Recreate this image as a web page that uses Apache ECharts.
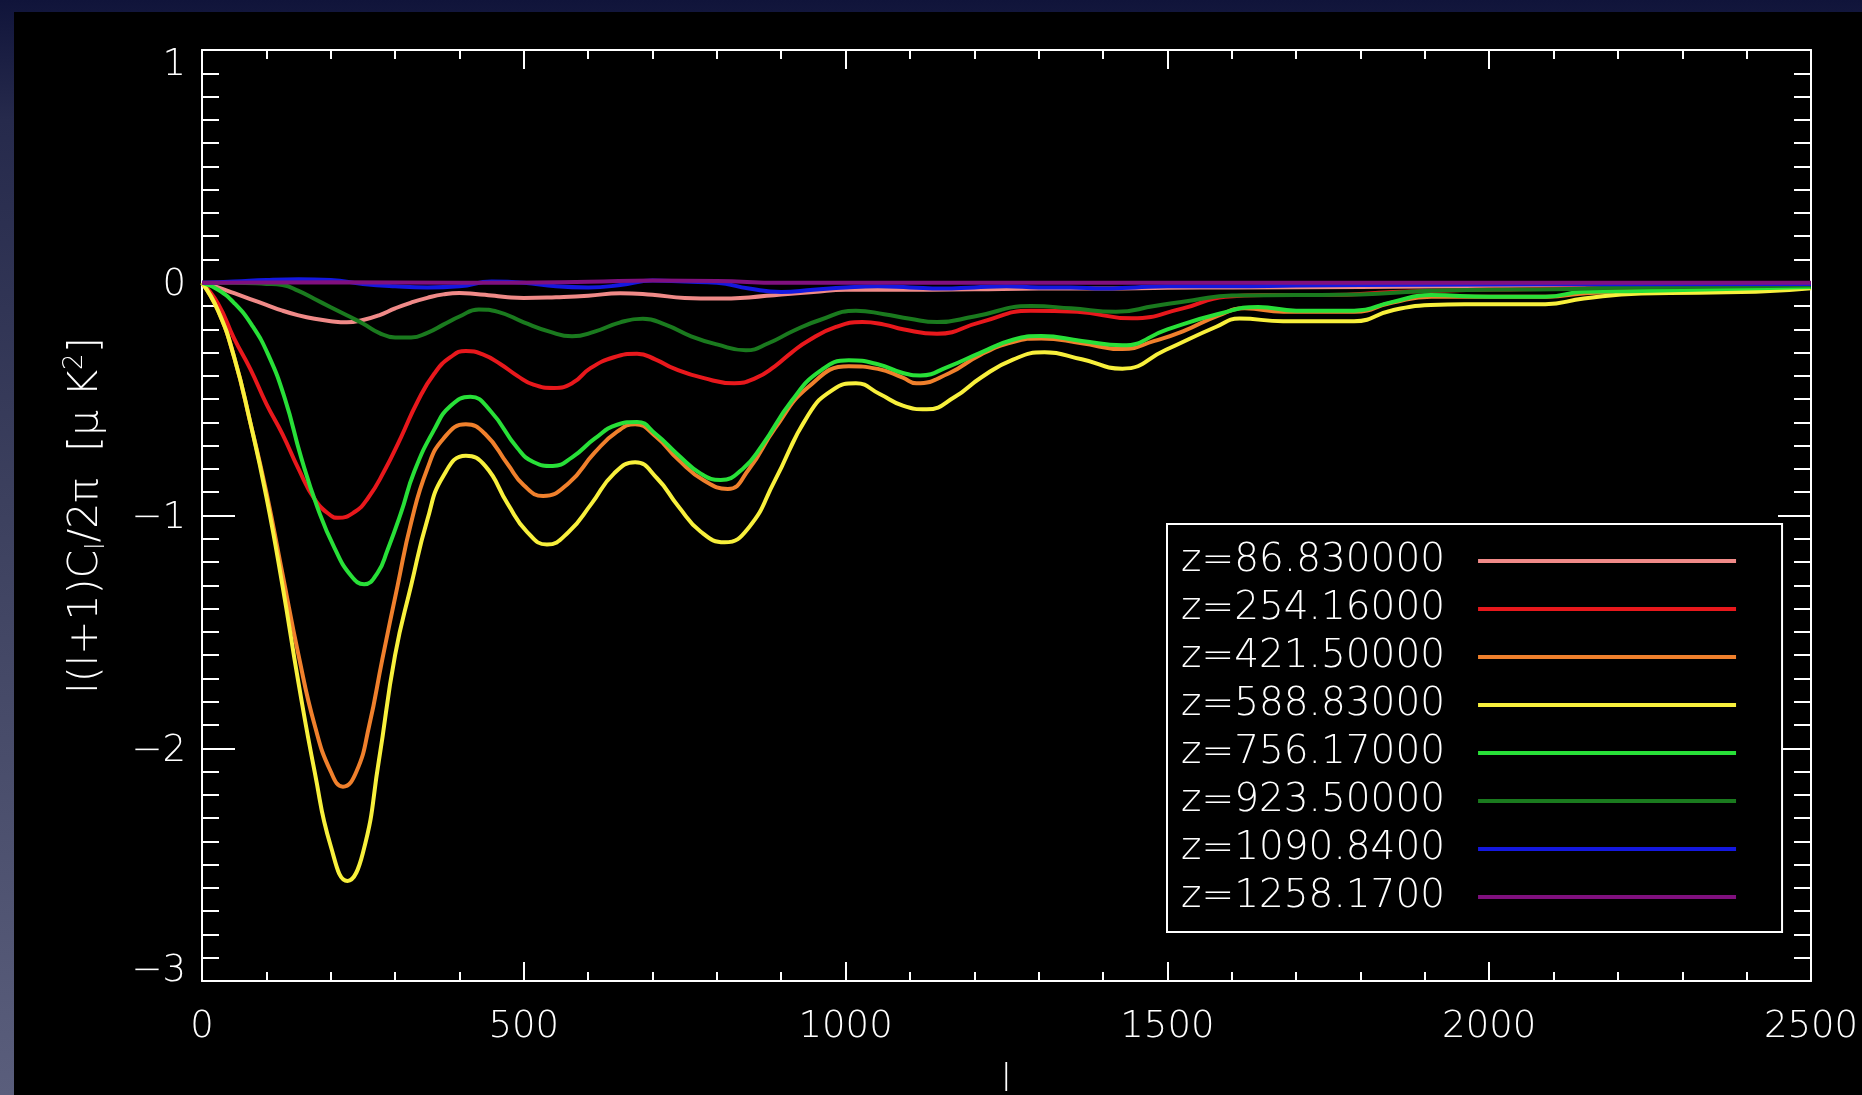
<!DOCTYPE html>
<html>
<head>
<meta charset="utf-8">
<script src="https://cdn.jsdelivr.net/npm/echarts@6/dist/echarts.min.js"></script>
<style>
  html, body { margin: 0; padding: 0; width: 1862px; height: 1095px; overflow: hidden;
    background: linear-gradient(to bottom, #10143a 0px, #262a4c 120px, #3c405e 500px, #5a5e7c 1095px); }
  #blk { position: absolute; left: 14px; top: 12px; right: 0; bottom: 0; background: #000; }
  #chart { position: absolute; left: 0; top: 0; width: 1862px; height: 1095px; }
</style>
</head>
<body>
<div id="blk"></div>
<div id="chart"></div>
<script>
// ---- data (multipole l, value in muK^2) ----
const seriesNames = ['z=86.830000', 'z=254.16000', 'z=421.50000', 'z=588.83000',
                     'z=756.17000', 'z=923.50000', 'z=1090.8400', 'z=1258.1700'];
const seriesColors = ['#f08a88', '#e8181c', '#f0802c', '#f8f03c',
                      '#28e038', '#1a7a1e', '#1418e0', '#80107e'];

const zPink = [[0,0],[25,-0.02],[50,-0.045],[75,-0.07],[100,-0.095],[125,-0.12],[150,-0.14],[175,-0.155],
  [200,-0.165],[225,-0.17],[250,-0.16],[275,-0.14],[300,-0.11],[325,-0.085],[350,-0.065],[375,-0.05],
  [400,-0.044],[425,-0.048],[450,-0.055],[475,-0.062],[500,-0.065],[550,-0.062],[600,-0.056],[650,-0.045],
  [700,-0.052],[750,-0.065],[800,-0.068],[850,-0.063],[900,-0.05],[950,-0.04],[1000,-0.03],[1100,-0.03],
  [1200,-0.028],[1300,-0.025],[1400,-0.025],[1500,-0.022],[1600,-0.02],[1800,-0.018],[2000,-0.015],
  [2200,-0.012],[2500,-0.01]];

const zRed = [[0,0],[25,-0.09],[50,-0.24],[75,-0.37],[100,-0.52],[125,-0.65],[150,-0.8],[175,-0.93],
  [200,-1.0],[211,-1.01],[237,-0.985],[258,-0.925],[283,-0.81],[309,-0.665],[335,-0.51],[361,-0.39],
  [386,-0.32],[410,-0.293],[438,-0.31],[464,-0.35],[490,-0.4],[515,-0.438],[547,-0.452],[576,-0.43],
  [603,-0.368],[640,-0.32],[676,-0.305],[705,-0.33],[733,-0.368],[780,-0.41],[827,-0.432],[860,-0.41],
  [890,-0.359],[916,-0.3],[942,-0.249],[985,-0.19],[1026,-0.169],[1060,-0.18],[1089,-0.2],[1142,-0.219],
  [1210,-0.169],[1288,-0.12],[1360,-0.125],[1445,-0.153],[1524,-0.11],[1590,-0.06],[1650,-0.053],
  [1750,-0.053],[1850,-0.04],[1950,-0.032],[2050,-0.028],[2150,-0.024],[2250,-0.02],[2350,-0.017],[2500,-0.012]];

const zOrange = [[0,0],[25,-0.12],[50,-0.32],[75,-0.6],[100,-0.9],[125,-1.25],[150,-1.6],[175,-1.9],
  [200,-2.1],[219,-2.165],[240,-2.1],[260,-1.9],[280,-1.62],[304,-1.3],[325,-1.03],[350,-0.8],[375,-0.67],
  [410,-0.608],[440,-0.65],[475,-0.78],[500,-0.87],[530,-0.916],[570,-0.86],[610,-0.73],[645,-0.64],
  [673,-0.608],[705,-0.66],[740,-0.76],[780,-0.85],[817,-0.886],[850,-0.8],[890,-0.627],[942,-0.448],
  [1005,-0.359],[1050,-0.37],[1089,-0.408],[1110,-0.432],[1160,-0.39],[1210,-0.309],[1260,-0.255],
  [1304,-0.239],[1367,-0.26],[1430,-0.285],[1480,-0.25],[1524,-0.209],[1580,-0.14],[1620,-0.11],
  [1680,-0.125],[1790,-0.125],[1850,-0.085],[1910,-0.06],[2000,-0.06],[2090,-0.06],[2150,-0.045],
  [2240,-0.035],[2400,-0.03],[2500,-0.02]];

const zYellow = [[0,0],[25,-0.12],[50,-0.32],[75,-0.6],[100,-0.92],[125,-1.3],[150,-1.72],[175,-2.1],
  [200,-2.42],[226,-2.57],[250,-2.45],[275,-2.05],[300,-1.6],[325,-1.3],[350,-1.02],[375,-0.83],
  [410,-0.743],[440,-0.787],[475,-0.95],[505,-1.07],[536,-1.125],[570,-1.07],[605,-0.95],[640,-0.82],
  [673,-0.771],[707,-0.84],[740,-0.96],[775,-1.07],[812,-1.115],[850,-1.05],[890,-0.85],[942,-0.568],
  [980,-0.46],[1016,-0.432],[1053,-0.478],[1089,-0.528],[1126,-0.544],[1170,-0.49],[1210,-0.408],
  [1260,-0.33],[1309,-0.299],[1367,-0.329],[1430,-0.369],[1497,-0.289],[1576,-0.189],[1612,-0.154],
  [1680,-0.165],[1790,-0.165],[1850,-0.118],[1909,-0.096],[1962,-0.092],[2087,-0.092],[2147,-0.068],
  [2236,-0.046],[2414,-0.039],[2500,-0.024]];

const zGreen = [[0,0],[25,-0.03],[51,-0.09],[77,-0.18],[103,-0.31],[129,-0.5],[154,-0.75],[180,-0.97],
  [206,-1.14],[232,-1.26],[252,-1.295],[273,-1.245],[288,-1.15],[309,-0.99],[330,-0.81],[361,-0.63],
  [386,-0.53],[417,-0.49],[448,-0.55],[490,-0.71],[515,-0.77],[545,-0.787],[575,-0.75],[610,-0.67],
  [645,-0.61],[676,-0.598],[705,-0.65],[740,-0.74],[775,-0.82],[806,-0.847],[840,-0.8],[870,-0.7],
  [916,-0.508],[960,-0.38],[1005,-0.333],[1050,-0.35],[1089,-0.388],[1116,-0.398],[1160,-0.36],
  [1210,-0.3],[1260,-0.245],[1304,-0.229],[1367,-0.25],[1430,-0.269],[1500,-0.2],[1582,-0.132],
  [1641,-0.104],[1700,-0.12],[1790,-0.12],[1850,-0.082],[1909,-0.053],[2000,-0.06],[2087,-0.06],
  [2147,-0.039],[2236,-0.035],[2500,-0.018]];

const zDarkGreen = [[0,0],[50,0],[100,-0.005],[125,-0.01],[150,-0.035],[175,-0.07],[200,-0.105],
  [225,-0.14],[250,-0.175],[275,-0.215],[300,-0.235],[325,-0.235],[350,-0.215],[375,-0.18],[400,-0.145],
  [430,-0.115],[460,-0.125],[500,-0.17],[540,-0.21],[575,-0.23],[610,-0.21],[650,-0.17],[685,-0.155],
  [720,-0.18],[760,-0.23],[800,-0.265],[845,-0.29],[880,-0.26],[920,-0.205],[960,-0.16],[1016,-0.12],
  [1060,-0.135],[1100,-0.155],[1142,-0.169],[1200,-0.145],[1288,-0.1],[1350,-0.11],[1420,-0.125],
  [1480,-0.1],[1540,-0.075],[1600,-0.055],[1700,-0.053],[1800,-0.05],[1900,-0.035],[2000,-0.03],
  [2100,-0.028],[2200,-0.022],[2300,-0.018],[2500,-0.012]];

const zBlue = [[0,0],[50,0.005],[100,0.012],[150,0.015],[200,0.012],[250,-0.005],[300,-0.015],[350,-0.02],
  [400,-0.015],[450,0.005],[500,0.0],[550,-0.015],[600,-0.02],[650,-0.01],[700,0.01],[750,0.005],
  [800,0.0],[850,-0.025],[900,-0.04],[950,-0.03],[1000,-0.02],[1050,-0.015],[1100,-0.02],[1150,-0.025],
  [1200,-0.02],[1250,-0.015],[1300,-0.02],[1350,-0.02],[1400,-0.025],[1450,-0.02],[1500,-0.015],
  [1600,-0.015],[1700,-0.012],[1800,-0.01],[2000,-0.008],[2200,-0.006],[2500,-0.005]];

const zPurple = [[0,0],[200,0.002],[400,0.0],[600,0.004],[700,0.01],[800,0.008],[900,0.0],[1200,0.0],
  [1600,0.0],[2000,0.0],[2500,0.0]];

const seriesData = [zPink, zRed, zOrange, zYellow, zGreen, zDarkGreen, zBlue, zPurple];

const xTicks = { min: 0, max: 2500, interval: 500 };
const yTicks = { min: -3, max: 1, interval: 1 };

// ---- chart ----
const FONT = 'DejaVu Sans';
const FW = 200;
const chart = echarts.init(document.getElementById('chart'), null, { renderer: 'canvas' });

const axisLine = { show: true, onZero: false, lineStyle: { color: '#ffffff', width: 2 } };
const xTick = { show: true, inside: true, length: 19, lineStyle: { color: '#ffffff', width: 2 } };
const xMinor = { show: true, splitNumber: 5, length: 9, lineStyle: { color: '#ffffff', width: 2 } };
const yTick = { show: true, inside: true, length: 33, lineStyle: { color: '#ffffff', width: 2 } };
const yMinor = { show: true, splitNumber: 10, length: 17, lineStyle: { color: '#ffffff', width: 2 } };

const yLabelRich = {
  n: { color: '#ffffff', fontFamily: FONT, fontWeight: FW, fontSize: 37, padding: [6, 0, 0, 0] },
  lo: { color: '#ffffff', fontFamily: FONT, fontWeight: FW, fontSize: 37, padding: [0, 0, 20, 0] },
  hi: { color: '#ffffff', fontFamily: FONT, fontWeight: FW, fontSize: 37, padding: [30, 0, 0, 0] }
};

const option = {
  backgroundColor: 'transparent',
  animation: false,
  grid: { left: 202, top: 50, right: 51, bottom: 114, containLabel: false, outerBoundsMode: 'none' },
  xAxis: [
    {
      type: 'value', position: 'bottom', min: xTicks.min, max: xTicks.max, interval: xTicks.interval,
      axisLine, axisTick: xTick, minorTick: xMinor, splitLine: { show: false },
      axisLabel: { color: '#ffffff', fontFamily: FONT, fontWeight: FW, fontSize: 37, margin: 28, lineHeight: 36,
                   formatter: v => String(v) },
      name: 'l', nameLocation: 'middle', nameGap: 82,
      nameTextStyle: { color: '#ffffff', fontFamily: FONT, fontWeight: FW, fontSize: 37, lineHeight: 36 }
    },
    {
      type: 'value', position: 'top', min: xTicks.min, max: xTicks.max, interval: xTicks.interval,
      axisLine, axisTick: xTick, minorTick: xMinor, splitLine: { show: false },
      axisLabel: { show: false }
    }
  ],
  yAxis: [
    {
      type: 'value', position: 'left', min: yTicks.min, max: yTicks.max, interval: yTicks.interval,
      axisLine, axisTick: yTick, minorTick: yMinor, splitLine: { show: false },
      axisLabel: {
        color: '#ffffff', fontFamily: FONT, fontWeight: FW, fontSize: 37, margin: 16, rich: yLabelRich,
        formatter: v => {
          const s = String(v).replace('-', '\u2212');
          const k = v === yTicks.min ? 'lo' : (v === yTicks.max ? 'hi' : 'n');
          return '{' + k + '|' + s + '}';
        }
      },
      name: '{a|l(l+1)C}{sub|l}{a|/2\u03c0  [\u03bc K}{sup|2}{a|]}',
      nameLocation: 'middle', nameGap: 92, nameRotate: 90,
      nameTextStyle: {
        color: '#ffffff', fontFamily: FONT, fontWeight: FW, fontSize: 41,
        rich: {
          a: { color: '#ffffff', fontFamily: FONT, fontWeight: FW, fontSize: 41 },
          sub: { color: '#ffffff', fontFamily: FONT, fontWeight: FW, fontSize: 26, padding: [22, 0, 0, 0] },
          sup: { color: '#ffffff', fontFamily: FONT, fontWeight: FW, fontSize: 26, padding: [0, 0, 22, 0] }
        }
      }
    },
    {
      type: 'value', position: 'right', min: yTicks.min, max: yTicks.max, interval: yTicks.interval,
      axisLine, axisTick: yTick, minorTick: yMinor, splitLine: { show: false },
      axisLabel: { show: false }
    }
  ],
  legend: {
    show: true, orient: 'vertical', left: 1167, top: 524, align: 'right',
    backgroundColor: '#000000', borderColor: '#ffffff', borderWidth: 2, borderRadius: 0,
    padding: [17, 46, 15, 14], itemGap: 8, itemWidth: 258, itemHeight: 4,
    itemStyle: { borderWidth: 0 },
    icon: 'rect', selectedMode: false,
    textStyle: { color: '#ffffff', fontFamily: FONT, fontWeight: FW, fontSize: 39, lineHeight: 40, padding: [0, 28, 0, 0] },
    data: seriesNames
  },
  series: seriesNames.map((name, i) => ({
    name, type: 'line', xAxisIndex: 0, yAxisIndex: 0,
    data: seriesData[i], showSymbol: false, symbol: 'none',
    smooth: 0.5,
    lineStyle: { color: seriesColors[i], width: 4 },
    itemStyle: { color: seriesColors[i] },
    z: 2 + i
  }))
};
chart.setOption(option);
</script>
</body>
</html>
